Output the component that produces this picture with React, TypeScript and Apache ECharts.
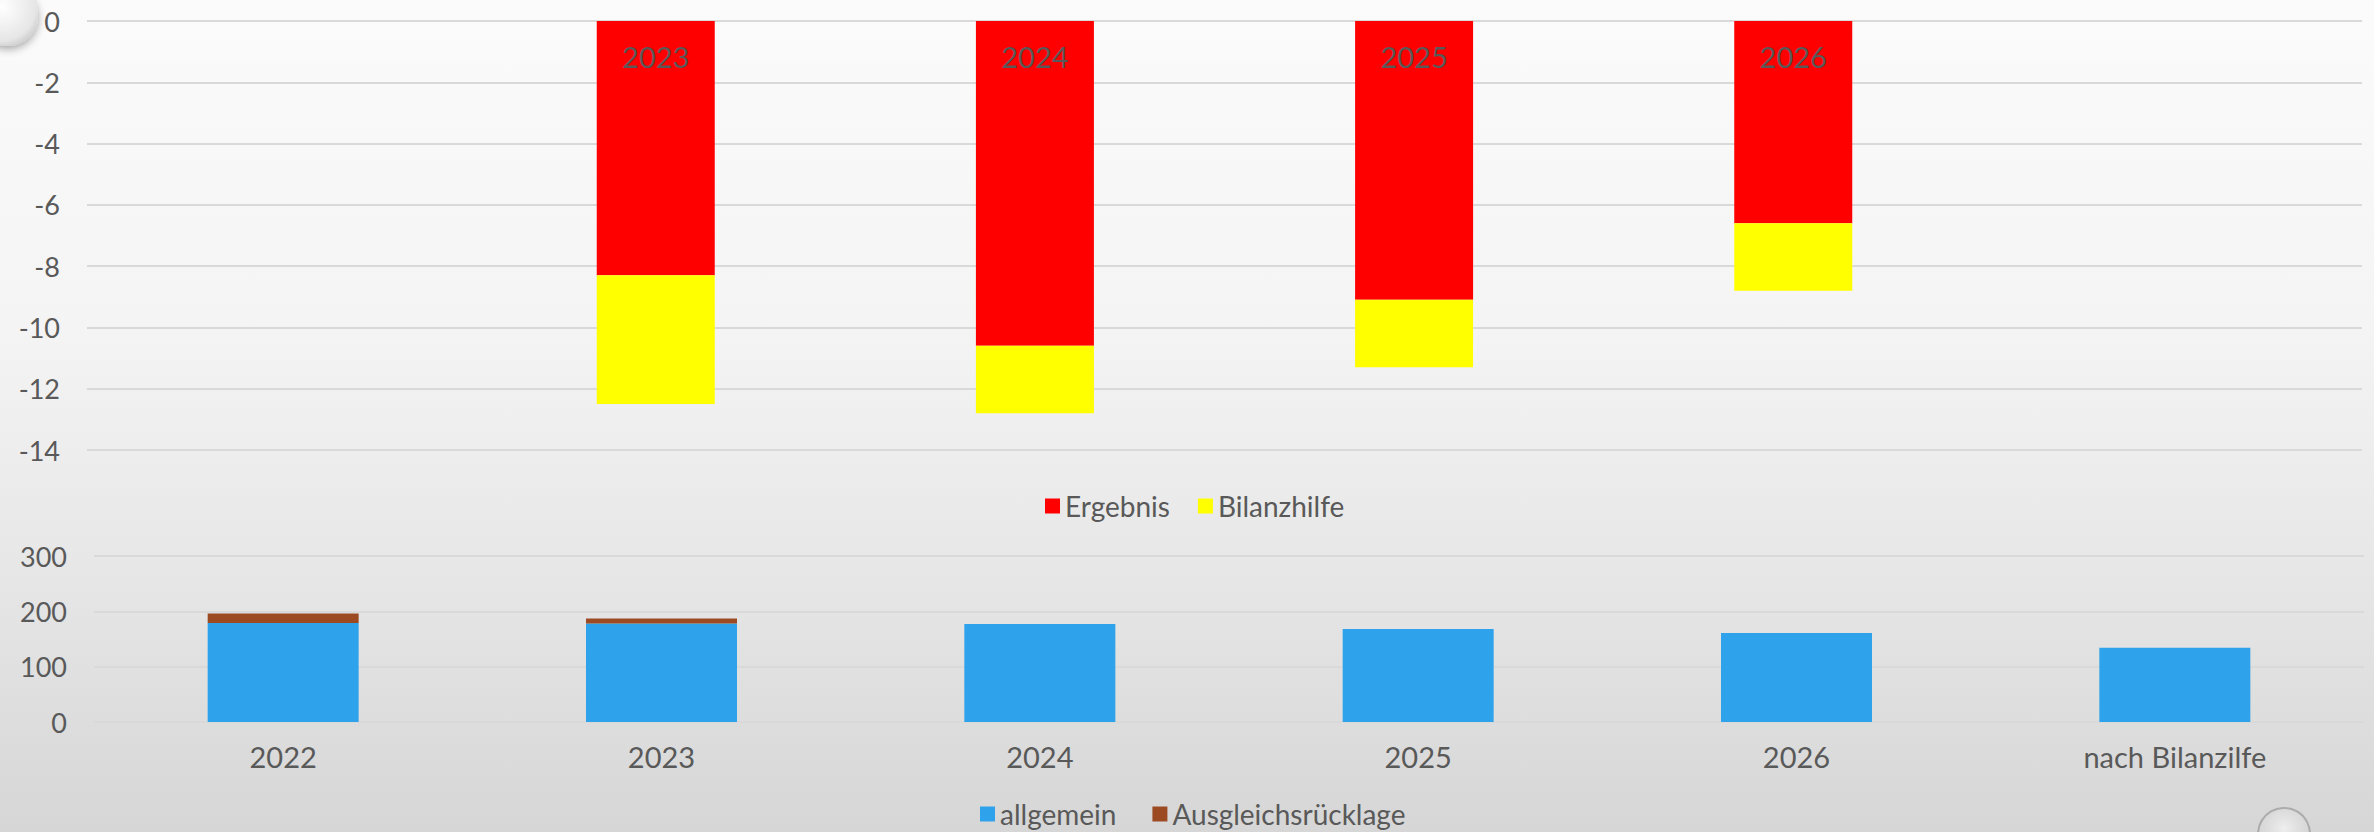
import React, { useEffect, useRef } from "react";
import * as echarts from "echarts";

const categories = ["2022", "2023", "2024", "2025", "2026", "nach Bilanzilfe"];
const topLabels = ["", "2023", "2024", "2025", "2026", ""];
const ergebnis = [null, -8.3, -10.6, -9.1, -6.6, null];
const bilanzhilfe = [null, -4.2, -2.2, -2.2, -2.2, null];
const allgemein = [179, 178, 177, 168, 161, 134];
const ausgleichsruecklage = [17, 9, null, null, null, null];
const topRange = { min: -14, max: 0, interval: 2 };
const bottomRange = { min: 0, max: 300, interval: 100 };

const FONT = "Lato, 'Open Sans', sans-serif";
const TEXT = "#595959";
const GRIDLINE = "#d9d9d9";

export default function App() {
  const ref = useRef<HTMLDivElement>(null);
  useEffect(() => {
    if (!ref.current) return;
    const chart = echarts.init(ref.current, undefined, { renderer: "svg" });
    chart.setOption({
      animation: false,
      backgroundColor: "transparent",
      textStyle: { fontFamily: FONT, color: TEXT },
      grid: [
        { left: 87, right: 12, top: 21, height: 429 },
        { left: 94, right: 10, top: 556, height: 166 },
      ],
      legend: [
        {
          data: ["Ergebnis", "Bilanzhilfe"],
          left: 1045,
          top: 492,
          icon: "rect",
          itemWidth: 15,
          itemHeight: 15,
          itemGap: 28,
          padding: 0,
          textStyle: { fontFamily: FONT, color: TEXT, fontSize: 28 },
        },
        {
          data: ["allgemein", "Ausgleichsrücklage"],
          left: 980,
          top: 800,
          icon: "rect",
          itemWidth: 15,
          itemHeight: 15,
          itemGap: 36,
          padding: 0,
          textStyle: { fontFamily: FONT, color: TEXT, fontSize: 28 },
        },
      ],
      xAxis: [
        {
          type: "category",
          gridIndex: 0,
          position: "top",
          data: categories,
          axisLine: { show: false },
          axisTick: { show: false },
          axisLabel: {
            inside: true,
            margin: 21,
            fontSize: 29,
            fontFamily: FONT,
            color: TEXT,
            formatter: (_v: string, i: number) => topLabels[i],
          },
          z: 10,
        },
        {
          type: "category",
          gridIndex: 1,
          position: "bottom",
          data: categories,
          axisLine: { show: false },
          axisTick: { show: false },
          axisLabel: { margin: 20, fontSize: 29, fontFamily: FONT, color: TEXT },
        },
      ],
      yAxis: [
        {
          type: "value",
          gridIndex: 0,
          min: topRange.min,
          max: topRange.max,
          interval: topRange.interval,
          axisLine: { show: false },
          axisTick: { show: false },
          axisLabel: { margin: 27, fontSize: 27, fontFamily: FONT, color: TEXT },
          splitLine: { lineStyle: { color: GRIDLINE, width: 2 } },
        },
        {
          type: "value",
          gridIndex: 1,
          min: bottomRange.min,
          max: bottomRange.max,
          interval: bottomRange.interval,
          axisLine: { show: false },
          axisTick: { show: false },
          axisLabel: { margin: 27, fontSize: 27, fontFamily: FONT, color: TEXT },
          splitLine: { lineStyle: { color: GRIDLINE, width: 2 } },
        },
      ],
      series: [
        {
          name: "Ergebnis",
          type: "bar",
          xAxisIndex: 0,
          yAxisIndex: 0,
          stack: "top",
          barWidth: 118,
          itemStyle: { color: "#ff0000" },
          data: ergebnis,
        },
        {
          name: "Bilanzhilfe",
          type: "bar",
          xAxisIndex: 0,
          yAxisIndex: 0,
          stack: "top",
          barWidth: 118,
          itemStyle: { color: "#ffff00" },
          data: bilanzhilfe,
        },
        {
          name: "allgemein",
          type: "bar",
          xAxisIndex: 1,
          yAxisIndex: 1,
          stack: "bottom",
          barWidth: 151,
          itemStyle: { color: "#2ea3ec" },
          data: allgemein,
        },
        {
          name: "Ausgleichsrücklage",
          type: "bar",
          xAxisIndex: 1,
          yAxisIndex: 1,
          stack: "bottom",
          barWidth: 151,
          itemStyle: { color: "#9c4a22" },
          data: ausgleichsruecklage,
        },
      ],
      graphic: [
        {
          type: "circle",
          shape: { cx: 8, cy: 16, r: 30 },
          style: {
            fill: new echarts.graphic.RadialGradient(0.4, 0.35, 0.8, [
              { offset: 0, color: "#ffffff" },
              { offset: 0.7, color: "#e6e6e6" },
              { offset: 1, color: "#b8b8b8" },
            ]),
            shadowBlur: 8,
            shadowColor: "rgba(0,0,0,0.35)",
            shadowOffsetY: 3,
          },
        },
        {
          type: "circle",
          shape: { cx: 2284, cy: 834, r: 26 },
          style: {
            fill: new echarts.graphic.RadialGradient(0.5, 0.4, 0.8, [
              { offset: 0, color: "rgba(255,255,255,0.6)" },
              { offset: 0.8, color: "rgba(200,200,200,0.4)" },
              { offset: 1, color: "rgba(150,150,150,0.8)" },
            ]),
            stroke: "rgba(160,160,160,0.8)",
            lineWidth: 2,
          },
        },
      ],
    });
    return () => chart.dispose();
  }, []);
  return (
    <div
      style={{
        position: "fixed",
        left: 0,
        top: 0,
        width: "100vw",
        height: "100vh",
        background:
          "linear-gradient(to bottom, #fbfbfb 0%, #f4f4f4 40%, #e6e6e6 70%, #d6d6d6 100%)",
      }}
    >
      <div ref={ref} style={{ width: "100%", height: "100%" }} />
    </div>
  );
}
